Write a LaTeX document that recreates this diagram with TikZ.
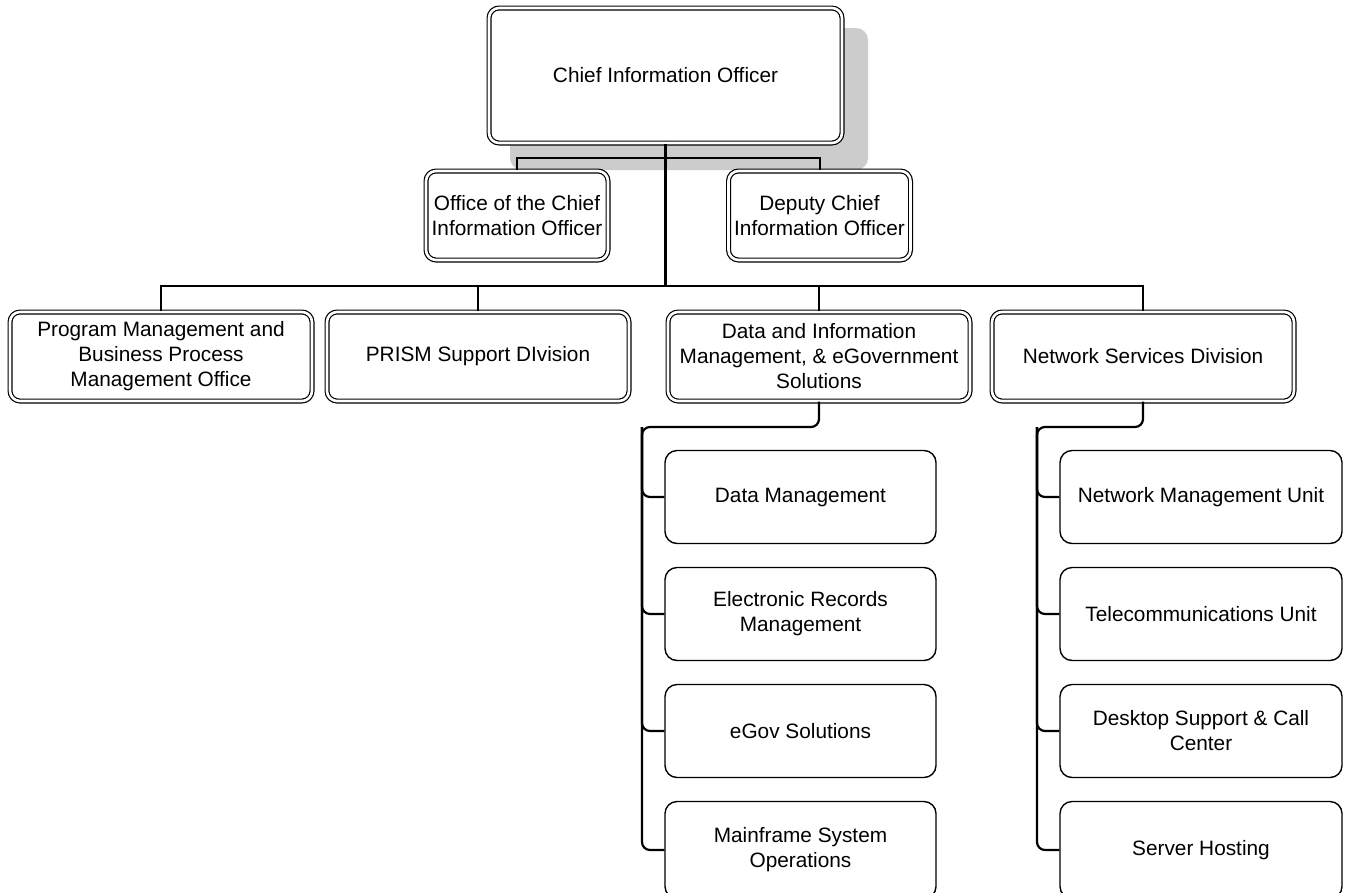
\documentclass[tikz,border=0pt]{standalone}
\usepackage{fontspec}
\setmainfont{Liberation Sans}
\begin{document}
\begin{tikzpicture}[x=1pt,y=-1pt,
  every node/.style={font=\fontsize{20.8}{25}\selectfont},
  dbox/.style={draw=black, double=white, double distance=2.6pt, line width=1.2pt,
    rounded corners=10pt, fill=white, align=center, inner sep=2pt},
  sbox/.style={draw=black, line width=1.4pt, rounded corners=12pt, fill=white,
    align=center, inner sep=2pt},
  conn/.style={draw=black, line width=2pt},
  rconn/.style={draw=black, line width=2.2pt, rounded corners=8pt}]
\clip (0,0) rectangle (1346,892);
\fill[white] (0,0) rectangle (1346,892);
% shadow of top box
\fill[black!20, rounded corners=12pt] (510,28) rectangle (868,170);
% top box
\node[dbox, minimum width=353pt, minimum height=135pt] (cio) at (665.5,75.5) {Chief Information Officer};
% staff boxes
\node[dbox, minimum width=182pt, minimum height=89pt] (off) at (517,215.5) {Office of the Chief\\Information Officer};
\node[dbox, minimum width=182pt, minimum height=89pt] (dep) at (819.5,215.5) {Deputy Chief\\Information Officer};
% divisions
\node[dbox, minimum width=302pt, minimum height=89pt] (pm) at (161,356.5) {Program Management and\\Business Process\\Management Office};
\node[dbox, minimum width=302pt, minimum height=89pt] (prism) at (478,356.5) {PRISM Support DIvision};
\node[dbox, minimum width=302pt, minimum height=89pt] (dat) at (819,356.5) {Data and Information\\Management, \& eGovernment\\Solutions};
\node[dbox, minimum width=302pt, minimum height=89pt] (net) at (1143,356.5) {Network Services Division};
% data children
\node[sbox, minimum width=271pt, minimum height=93pt] (d1) at (800.5,497) {Data Management};
\node[sbox, minimum width=271pt, minimum height=93pt] (d2) at (800.5,614) {Electronic Records\\Management};
\node[sbox, minimum width=271pt, minimum height=93pt] (d3) at (800.5,731) {eGov Solutions};
\node[sbox, minimum width=271pt, minimum height=97pt] (d4) at (800.5,850) {Mainframe System\\Operations};
% network children
\node[sbox, minimum width=282pt, minimum height=93pt] (n1) at (1201,497) {Network Management Unit};
\node[sbox, minimum width=282pt, minimum height=93pt] (n2) at (1201,614) {Telecommunications Unit};
\node[sbox, minimum width=282pt, minimum height=93pt] (n3) at (1201,731) {Desktop Support \& Call\\Center};
\node[sbox, minimum width=282pt, minimum height=97pt] (n4) at (1201,850) {Server Hosting};
% junction coordinates
\coordinate (j1) at (665.5,158);
\coordinate (bus) at (665.5,286);
\coordinate (dv) at (642,427);
\coordinate (nv) at (1037,427);
% connectors
\draw[conn] (off.north) |- (j1) -| (dep.north);
\draw[conn, line width=2.5pt] (cio.south) -- (bus);
\draw[conn] (pm.north) |- (bus) -| (net.north);
\draw[conn] (prism.north) |- (bus);
\draw[conn] (dat.north) |- (bus);
\draw[rconn] (dat.south) |- (dv) |- (d4.west);
\draw[rconn] (dv) |- (d1.west);
\draw[rconn] (dv) |- (d2.west);
\draw[rconn] (dv) |- (d3.west);
\draw[rconn] (net.south) |- (nv) |- (n4.west);
\draw[rconn] (nv) |- (n1.west);
\draw[rconn] (nv) |- (n2.west);
\draw[rconn] (nv) |- (n3.west);
\end{tikzpicture}
\end{document}
